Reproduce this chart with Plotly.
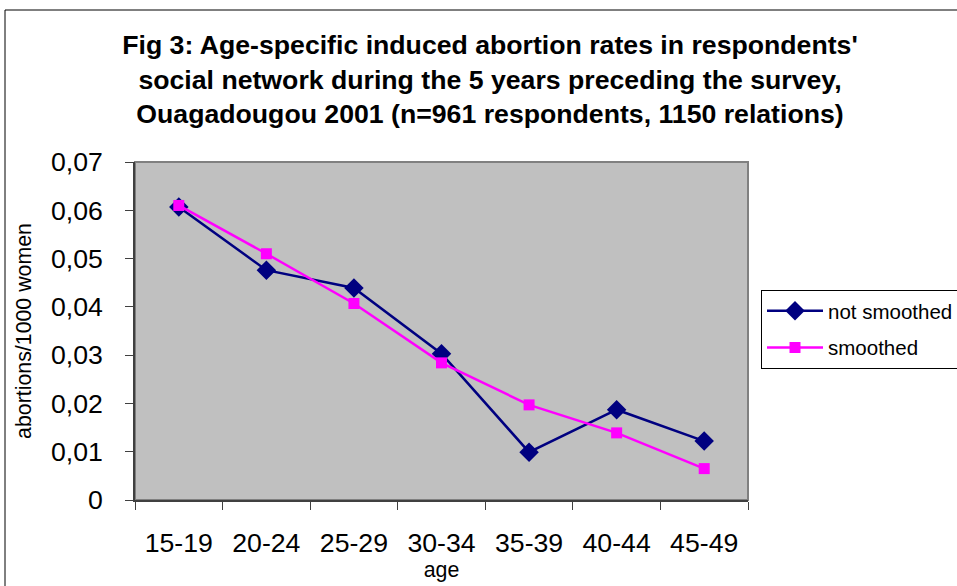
import plotly.graph_objects as go

ages = ["15-19", "20-24", "25-29", "30-34", "35-39", "40-44", "45-49"]
not_smoothed = [0.0607, 0.0476, 0.0439, 0.0303, 0.0099, 0.0187, 0.0122]
smoothed = [0.0610, 0.0510, 0.0407, 0.0284, 0.0197, 0.0139, 0.0065]
y_ticks = [0, 0.01, 0.02, 0.03, 0.04, 0.05, 0.06, 0.07]
y_tick_text = ["0", "0,01", "0,02", "0,03", "0,04", "0,05", "0,06", "0,07"]

W, H = 957, 586
L, R, T, B = 135, 748, 162, 500

fig = go.Figure()
fig.add_trace(go.Scatter(
    x=ages, y=not_smoothed, mode="lines+markers", name="not smoothed",
    legendgroup="a",
    line=dict(color="#000080", width=2.5),
    marker=dict(symbol="diamond", size=15, color="#000080"),
))
fig.add_trace(go.Scatter(
    x=ages, y=smoothed, mode="lines+markers", name="smoothed",
    legendgroup="b",
    line=dict(color="#FF00FF", width=2.5),
    marker=dict(symbol="square", size=11, color="#FF00FF"),
))

font = "Liberation Sans, Arial, sans-serif"
fig.update_layout(
    width=W, height=H,
    margin=dict(l=L, r=W - R, t=T, b=H - B, autoexpand=False),
    paper_bgcolor="white",
    plot_bgcolor="#C0C0C0",
    font=dict(family=font, color="black"),
    title=dict(
        text="Fig 3: Age-specific induced abortion rates in respondents'<br>"
             "social network during the 5 years preceding the survey,<br>"
             "Ouagadougou 2001 (n=961 respondents, 1150 relations)",
        font=dict(size=26.67, family=font, weight="bold"),
        x=490 / W, xanchor="center", xref="container",
        y=1 - 54 / H, yanchor="top", yref="container",
    ),
    xaxis=dict(
        type="category", tickson="boundaries", ticks="outside", ticklen=8,
        tickcolor="#404040", showline=True, linecolor="#404040", linewidth=1.5,
        showgrid=False, tickfont=dict(size=26.67), ticklabelstandoff=18,
        title=dict(text="age", font=dict(size=21.33), standoff=0),
        range=[-0.5, 6.5],
    ),
    yaxis=dict(
        range=[0, 0.07], tickvals=y_ticks, ticktext=y_tick_text,
        ticks="outside", ticklen=8, tickcolor="#404040", showline=True,
        linecolor="#404040", linewidth=1.5, showgrid=False, zeroline=False,
        tickfont=dict(size=26.67), ticklabelstandoff=17,
        title=dict(text="abortions/1000 women", font=dict(size=21.33), standoff=14),
    ),
    legend=dict(
        x=(761 - L) / (R - L), y=(B - 290) / (B - T), xanchor="left", yanchor="top",
        bordercolor="black", borderwidth=1, bgcolor="white",
        font=dict(size=20.5), tracegroupgap=7, itemwidth=56,
    ),
    shapes=[
        dict(type="rect", xref="paper", yref="paper", x0=0, x1=1, y0=0, y1=1,
             line=dict(color="#808080", width=2), layer="below"),
        dict(type="rect", xref="paper", yref="paper",
             x0=(5 - L) / (R - L), x1=(W + 5 - L) / (R - L),
             y0=(B - (H + 5)) / (B - T), y1=(B - 10) / (B - T),
             line=dict(color="black", width=1)),
    ],
)

fig.write_html(
    "out.html",
    config={"displayModeBar": False},
    post_script="document.body.style.margin='0';document.body.style.overflow='hidden';",
)
